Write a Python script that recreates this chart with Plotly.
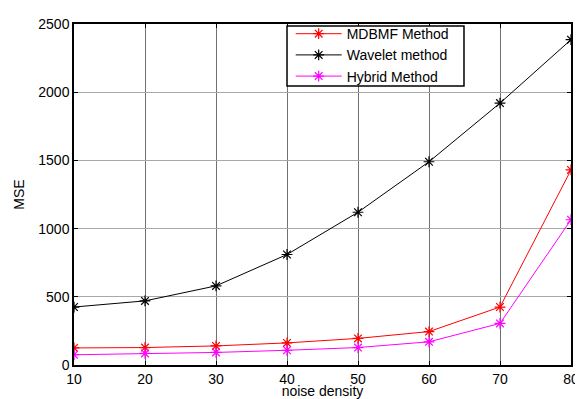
import plotly.graph_objects as go

noise_density = [10, 20, 30, 40, 50, 60, 70, 80]
mdbmf = [125, 128, 140, 162, 195, 245, 425, 1430]
wavelet = [425, 470, 580, 810, 1120, 1490, 1920, 2385]
hybrid = [75, 85, 92, 108, 128, 170, 305, 1065]
x_ticks = [10, 20, 30, 40, 50, 60, 70, 80]
y_ticks = [0, 500, 1000, 1500, 2000, 2500]

FONT = "Liberation Sans, Arial"

fig = go.Figure()
for name, y, c in [("MDBMF Method", mdbmf, "#ff0000"),
                   ("Wavelet method", wavelet, "#000000"),
                   ("Hybrid Method", hybrid, "#ff00ff")]:
    fig.add_trace(go.Scatter(
        x=noise_density, y=y, name=name, mode="lines+markers",
        line=dict(color=c, width=1),
        marker=dict(symbol="asterisk-open", size=9, color=c, line=dict(color=c, width=1.2)),
    ))

axis_common = dict(
    showline=True, linecolor="black", linewidth=1.5, mirror="ticks",
    ticks="inside", ticklen=4, tickcolor="black", automargin=False,
    showgrid=True, gridwidth=1,
    zeroline=False, tickfont=dict(family=FONT, size=14, color="black"),
)
fig.update_xaxes(range=[10, 80], tickvals=x_ticks, gridcolor="#707070",
                 title=dict(text="noise density", standoff=14,
                            font=dict(family=FONT, size=14, color="black")), **axis_common)
fig.update_yaxes(range=[0, 2500], tickvals=y_ticks, gridcolor="#a8a8a8",
                 title=dict(text="MSE", standoff=10,
                            font=dict(family=FONT, size=14, color="black")), **axis_common)

# legend frame (white box with black border) drawn as a shape behind the legend entries
fig.add_shape(type="rect", xref="x domain", yref="y domain",
              x0=0.4286, x1=0.7847, y0=0.8184, y1=0.9942,
              fillcolor="white", line=dict(color="black", width=1.5), layer="above")

# The page body has an 8px margin, so the figure is sized to end at the window edge.
fig.update_layout(
    width=575, height=391,
    margin=dict(l=66, r=12, t=10, b=34),
    paper_bgcolor="white", plot_bgcolor="white",
    font=dict(family=FONT, size=14, color="black"),
    legend=dict(x=0.436, y=1.0173, xanchor="left", yanchor="top",
                bgcolor="rgba(0,0,0,0)", borderwidth=0,
                font=dict(size=14), tracegroupgap=0, itemwidth=46),
    showlegend=True,
)
fig.write_html("out.html")
